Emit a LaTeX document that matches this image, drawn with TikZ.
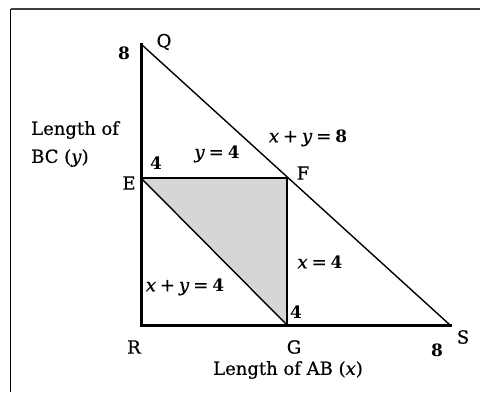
\documentclass[tikz,border=0pt]{standalone}
\usepackage{fontspec}
\setmainfont{DejaVu Serif}[UprightFeatures={FakeBold=0.6},ItalicFeatures={FakeBold=0.6}]
\newcommand{\bn}[1]{{\fontsize{17}{20}\selectfont\bfseries #1}}
\newcommand{\gapsp}{\hspace{0.22em}}
\begin{document}
\begin{tikzpicture}[x=1pt,y=-1pt,
  lbl/.style={inner sep=0pt,font=\fontsize{18}{22}\selectfont},
  thickln/.style={line width=3pt},
  thinln/.style={line width=1.4pt},
  midln/.style={line width=2pt}]
\useasboundingbox (0,0) rectangle (480,392);
% frame
\coordinate (ftl) at (10.5,9);
\coordinate (ftr) at (480,9);
\coordinate (fbl) at (10.5,392);
\draw[line width=1.6pt,black!75] (ftl) -- (ftr);
\draw[line width=1.4pt] (ftl) -- (fbl);
% points
\coordinate (R) at (141,325);
\coordinate (Q) at (141,44);
\coordinate (S) at (450,325);
\coordinate (E) at (141,178);
\coordinate (F) at (287,178);
\coordinate (G) at (287,325);
% shading
\fill[black!16] (E) -- (F) -- (G) -- cycle;
\draw[thinln] (Q) -- (S);
\draw[thinln] (E) -- (G);
\draw[midln] (E) -- (F);
\draw[midln] (F) -- (G);
\draw[thickln,line cap=rect] (Q) -- (R) -- (S);
% labels
\node[lbl] (n8q) at (124,53) {\bn{8}};
\node[lbl] (lQ) at (164,42) {Q};
\node[lbl,anchor=west] (ly1) at (31,130) {Length of};
\node[lbl,anchor=west] (ly2) at (31,158) {BC (\textit{y})};
\node[lbl] (eq8) at (308,138) {\textit{x}\gapsp+\gapsp\textit{y}\gapsp=\gapsp\bn{8}};
\node[lbl] (eqy) at (217,154) {\textit{y}\gapsp=\gapsp\bn{4}};
\node[lbl] (n4e) at (156,163) {\bn{4}};
\node[lbl] (lE) at (129,183) {E};
\node[lbl] (lF) at (303,173) {F};
\node[lbl] (eqx) at (320,262) {\textit{x}\gapsp=\gapsp\bn{4}};
\node[lbl] (eq4) at (185,287) {\textit{x}\gapsp+\gapsp\textit{y}\gapsp=\gapsp\bn{4}};
\node[lbl] (n4g) at (296,312) {\bn{4}};
\node[lbl] (lR) at (134,347) {R};
\node[lbl] (lG) at (294,347) {G};
\node[lbl] (n8s) at (437,350) {\bn{8}};
\node[lbl] (lS) at (463,337) {S};
\node[lbl] (lx) at (288,370) {Length of AB (\textit{x})};
\end{tikzpicture}
\end{document}
